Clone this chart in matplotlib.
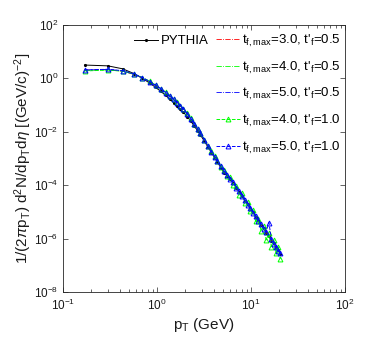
import numpy as np
import matplotlib
matplotlib.use("Agg")
import matplotlib.pyplot as plt

plt.rcParams['font.family'] = ['Liberation Sans', 'DejaVu Sans']
plt.rcParams['mathtext.fontset'] = 'custom'
plt.rcParams['mathtext.rm'] = 'Liberation Sans'
plt.rcParams['mathtext.it'] = 'Liberation Sans:italic'
plt.rcParams['mathtext.bf'] = 'Liberation Sans:bold'

# ---------------- data (log10 of the yield) ----------------
pt = [0.17, 0.30, 0.43, 0.57, 0.70, 0.84, 0.97, 1.10, 1.24, 1.37, 1.50, 1.64, 1.77, 1.90,
      2.10, 2.30, 2.50, 2.70, 2.90, 3.20, 3.50, 3.80, 4.10, 4.40, 4.80, 5.20, 5.60, 6.00,
      6.50, 7.00, 7.50, 8.00, 8.60, 9.20, 9.80, 10.5, 11.2, 12.0, 12.8, 13.6, 14.5, 15.5,
      16.5, 17.5, 18.5, 19.5, 20.5]

pythia_log = [0.50, 0.47, 0.36, 0.18, 0.00, -0.18, -0.34, -0.49, -0.64, -0.78, -0.91, -1.03,
              -1.15, -1.26, -1.43, -1.61, -1.79, -1.96, -2.12, -2.36, -2.58, -2.78, -2.97,
              -3.14, -3.36, -3.53, -3.66, -3.78, -3.93, -4.10, -4.27, -4.40, -4.58, -4.70,
              -4.88, -5.00, -5.19, -5.30, -5.50, -5.60, -5.79, -5.90, -6.08, -6.17, -6.35,
              -6.42, -6.58]

tf3_05_log = [0.31, 0.33, 0.27, 0.15, 0.02, -0.13, -0.27, -0.40, -0.54, -0.67, -0.79, -0.92,
              -1.04, -1.15, -1.33, -1.52, -1.71, -1.90, -2.07, -2.31, -2.55, -2.76, -2.94,
              -3.11, -3.31, -3.46, -3.63, -3.74, -3.93, -4.06, -4.26, -4.37, -4.57, -4.68,
              -4.88, -4.98, -5.19, -5.30, -5.50, -5.58, -5.79, -5.88, -6.09, -6.15, -6.36,
              -6.40, -6.58]

tf4_05_log = [0.30, 0.32, 0.28, 0.16, 0.03, -0.12, -0.26, -0.39, -0.53, -0.66, -0.78, -0.91,
              -1.03, -1.14, -1.32, -1.51, -1.70, -1.89, -2.06, -2.30, -2.54, -2.74, -2.93,
              -3.12, -3.28, -3.49, -3.60, -3.77, -3.88, -4.11, -4.21, -4.42, -4.52, -4.74,
              -4.82, -5.05, -5.12, -5.36, -5.44, -5.66, -5.72, -5.96, -6.01, -6.24, -6.28,
              -6.50, -6.52]

tf5_05_log = [0.31, 0.34, 0.28, 0.16, 0.02, -0.13, -0.27, -0.40, -0.53, -0.66, -0.79, -0.91,
              -1.03, -1.15, -1.33, -1.51, -1.71, -1.89, -2.06, -2.31, -2.54, -2.75, -2.95,
              -3.10, -3.32, -3.45, -3.64, -3.72, -3.94, -4.05, -4.27, -4.36, -4.58, -4.67,
              -4.89, -4.97, -5.20, -5.28, -5.51, -5.57, -5.80, -5.86, -6.10, -6.13, -6.37,
              -6.39, -6.60]

tf4_10_log = [0.28, 0.31, 0.27, 0.16, 0.03, -0.11, -0.25, -0.38, -0.52, -0.65, -0.77, -0.90,
              -1.02, -1.13, -1.31, -1.50, -1.69, -1.88, -2.05, -2.29, -2.53, -2.73, -2.92,
              -3.08, -3.30, -3.44, -3.66, -3.70, -3.98, -4.02, -4.35, -4.30, -4.65, -4.62,
              -4.98, -4.92, -5.35, -5.25, -5.70, -5.52, -6.05, -5.80, -6.30, -6.05, -6.55,
              -6.30, -6.75]

tf5_10_log = [0.32, 0.34, 0.29, 0.17, 0.03, -0.12, -0.26, -0.39, -0.53, -0.66, -0.78, -0.91,
              -1.03, -1.14, -1.32, -1.51, -1.70, -1.89, -2.06, -2.30, -2.54, -2.75, -2.93,
              -3.11, -3.29, -3.48, -3.60, -3.76, -3.89, -4.10, -4.22, -4.41, -4.54, -4.73,
              -4.84, -5.03, -5.14, -5.34, -5.45, -5.64, -5.74, -5.40, -6.03, -6.22, -6.30,
              -6.47, -6.53]

labels = [
    r"t$_\mathregular{f,max}$=3.0, t$'_\mathregular{f}$=0.5",
    r"t$_\mathregular{f,max}$=4.0, t$'_\mathregular{f}$=0.5",
    r"t$_\mathregular{f,max}$=5.0, t$'_\mathregular{f}$=0.5",
    r"t$_\mathregular{f,max}$=4.0, t$'_\mathregular{f}$=1.0",
    r"t$_\mathregular{f,max}$=5.0, t$'_\mathregular{f}$=1.0",
]

# ---------------- figure ----------------
W, H = 382, 346
fig = plt.figure(figsize=(W / 100, H / 100), dpi=100)
ax = fig.add_axes([63 / W, 1 - 292 / H, (345 - 63) / W, (292 - 25) / H])

x = np.array(pt)
def yv(a):
    return 10 ** np.array(a)

h_py, = ax.plot(x, yv(pythia_log), '-', color='k', lw=0.7, marker='.', ms=2.5, label='PYTHIA')
h1, = ax.plot(x, yv(tf3_05_log), '-.', color=(1, 0, 0), lw=0.6, label=labels[0])
h2, = ax.plot(x, yv(tf4_05_log), '-.', color=(0, 1, 0), lw=0.6, label=labels[1])
h3, = ax.plot(x, yv(tf5_05_log), '-.', color=(0, 0, 1), lw=0.6, label=labels[2])
h4, = ax.plot(x, yv(tf4_10_log), '--', color=(0, 1, 0), lw=0.7, marker='^', ms=3.5,
              mfc='none', mew=0.7, label=labels[3])
h5, = ax.plot(x, yv(tf5_10_log), '--', color=(0, 0, 1), lw=0.7, marker='^', ms=3.5,
              mfc='none', mew=0.7, label=labels[4])

ax.set_xscale('log')
ax.set_yscale('log')
ax.set_xlim(0.1, 100)
ax.set_ylim(1e-8, 1e2)
ax.set_yticks([1e-8, 1e-6, 1e-4, 1e-2, 1e0, 1e2])
ax.yaxis.set_minor_locator(matplotlib.ticker.NullLocator())

axc = (0.15, 0.15, 0.15)
for s in ax.spines.values():
    s.set_color(axc)
    s.set_linewidth(0.6)
ax.tick_params(which='both', direction='in', top=True, right=True, colors=axc,
               labelcolor=(0.1, 0.1, 0.1), labelsize=8.5, width=0.5)
ax.tick_params(which='major', length=3.5)
ax.tick_params(which='minor', length=2)
ax.tick_params(axis='x', pad=4)

ax.set_xlabel(r"p$_\mathregular{T}$ (GeV)", fontsize=11, color=(0.1, 0.1, 0.1), labelpad=2)
ax.set_ylabel(r"1/(2$\pi$p$_\mathregular{T}$) d$^\mathregular{2}$N/dp$_\mathregular{T}$d$\eta$ [(GeV/c)$^\mathregular{-2}$]",
              fontsize=11, color=(0.1, 0.1, 0.1), labelpad=0)

leg1 = ax.legend(handles=[h_py], loc='upper left', bbox_to_anchor=(134 / W, 1 - 35 / H),
                 bbox_transform=fig.transFigure, frameon=False, fontsize=9.5, numpoints=1,
                 borderpad=0, borderaxespad=0, handlelength=1.8, handletextpad=0.2)
ax.add_artist(leg1)
leg2 = ax.legend(handles=[h1, h2, h3, h4, h5], loc='upper left',
                 bbox_to_anchor=(216 / W, 1 - 33 / H), bbox_transform=fig.transFigure,
                 frameon=False, fontsize=9.5, borderpad=0, borderaxespad=0, numpoints=1,
                 handlelength=1.8, handletextpad=0.2, labelspacing=0.8)

fig.savefig('out.png', dpi=100)
